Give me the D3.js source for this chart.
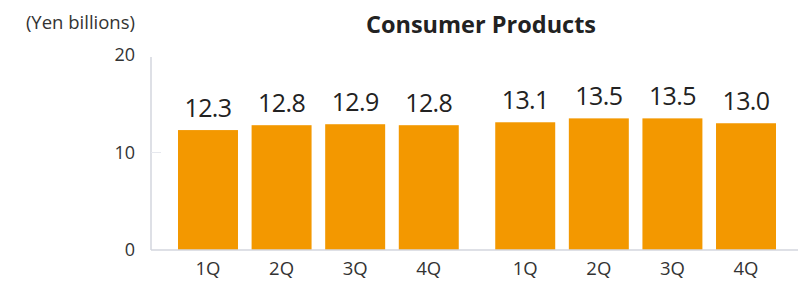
<!DOCTYPE html>
<html><head><meta charset="utf-8">
<script src="https://cdn.jsdelivr.net/npm/d3@7"></script>
<style>
html,body{margin:0;padding:0;background:#fff;}
svg{display:block;}
text{font-family:"Open Sans",sans-serif;fill:#222;}
</style></head>
<body>
<svg id="chart" width="798" height="281"></svg>
<script>
const title = "Consumer Products";
const unitLabel = "(Yen billions)";
const groups = ["FY-A", "FY-B"];
const quarters = ["1Q", "2Q", "3Q", "4Q"];
const valuesA = [12.3, 12.8, 12.9, 12.8];
const valuesB = [13.1, 13.5, 13.5, 13.0];
const yTicks = [0, 10, 20];

const data = [];
groups.forEach((g, gi) => {
  const vals = gi === 0 ? valuesA : valuesB;
  quarters.forEach((q, qi) => data.push({group: g, quarter: q, value: vals[qi]}));
});

const svg = d3.select("#chart");
const axisX = 151, baseY = 250;

const y = d3.scaleLinear().domain([0, 20]).range([baseY, 55]);
const x0 = d3.scaleBand().domain(groups).range([178, 776]).paddingInner(0.115).paddingOuter(0);
const x1 = d3.scaleBand().domain(quarters).range([0, x0.bandwidth()]).paddingInner(0.185).paddingOuter(0);

const orange = "#F39800";
const axisColor = "#d3d6de";

// y axis line
svg.append("line").attr("x1", axisX).attr("x2", axisX)
  .attr("y1", y(20) + 2).attr("y2", baseY).attr("stroke", axisColor).attr("stroke-width", 1.5);

// y tick labels
svg.append("g").selectAll("text").data(yTicks).join("text")
  .attr("x", 135).attr("y", d => y(d)).attr("dy", "0.35em")
  .attr("text-anchor", "end").style("font-size", "18px").style("fill", "#333")
  .text(d => d);

// minor tick at 10
svg.append("g").selectAll("line").data(yTicks.filter(d => d > 0 && d < 20)).join("line")
  .attr("x1", axisX).attr("x2", axisX + 10).attr("y1", d => y(d)).attr("y2", d => y(d))
  .attr("stroke", "#e6e8ee").attr("stroke-width", 1);

// bars
svg.append("g").selectAll("rect").data(data).join("rect")
  .attr("x", d => x0(d.group) + x1(d.quarter))
  .attr("width", x1.bandwidth())
  .attr("y", d => y(d.value))
  .attr("height", d => baseY - y(d.value))
  .attr("fill", orange);

// baseline
svg.append("line").attr("x1", axisX).attr("x2", 798).attr("y1", baseY).attr("y2", baseY)
  .attr("stroke", axisColor).attr("stroke-width", 1.5);

// value labels
svg.append("g").selectAll("text").data(data).join("text")
  .attr("x", d => x0(d.group) + x1(d.quarter) + x1.bandwidth() / 2)
  .attr("y", d => y(d.value) - 13)
  .attr("text-anchor", "middle").style("font-size", "25px").style("letter-spacing", "-0.6px")
  .text(d => d.value.toFixed(1));

// x labels
svg.append("g").selectAll("text").data(data).join("text")
  .attr("x", d => x0(d.group) + x1(d.quarter) + x1.bandwidth() / 2)
  .attr("y", 275)
  .attr("text-anchor", "middle").style("font-size", "18.5px").style("fill", "#333")
  .text(d => d.quarter);

// unit label
svg.append("text").attr("x", 135).attr("y", 23).attr("dy", "0.35em")
  .attr("text-anchor", "end").style("font-size", "18.5px").style("fill", "#333")
  .text(unitLabel);

// title
svg.append("text").attr("x", 481).attr("y", 25).attr("dy", "0.35em")
  .attr("text-anchor", "middle").style("font-size", "23.5px").style("font-weight", "bold")
  .text(title);
</script>
</body></html>
